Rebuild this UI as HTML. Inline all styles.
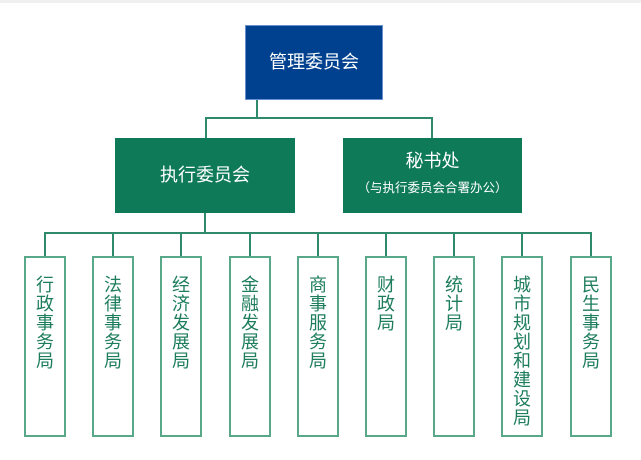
<!DOCTYPE html>
<html><head><meta charset="utf-8"><style>
body{margin:0;width:641px;height:460px;background:#fff;overflow:hidden;position:relative;font-family:"Liberation Sans","Noto Sans CJK SC",sans-serif}
.b{position:absolute;box-sizing:border-box;color:#fff;text-align:center}
.l{position:absolute;background:#2f8a6b}
.v{position:absolute;top:256px;width:42px;height:181px;box-sizing:border-box;border:2px solid #5aa88a;background:#fff;color:#1e7d5d;font-size:18px;line-height:19px;text-align:center;padding-top:18px}
</style></head><body>
<div style="position:absolute;left:0;top:0;width:641px;height:3px;background:#f0f0f0"></div>
<div class="b" style="left:245px;top:25px;width:138px;height:75px;background:#00418f;border:1px solid #6a8fcf;font-size:18px;line-height:73px">管理委员会</div>
<div class="l" style="left:256px;top:100px;width:2px;height:19px"></div>
<div class="l" style="left:205px;top:117px;width:228px;height:2px"></div>
<div class="l" style="left:205px;top:117px;width:2px;height:22px"></div>
<div class="l" style="left:431px;top:117px;width:2px;height:22px"></div>
<div class="b" style="left:115px;top:138px;width:180px;height:75px;background:#0e7a58;font-size:18px;line-height:75px">执行委员会</div>
<div class="b" style="left:343px;top:138px;width:179px;height:75px;background:#0e7a58"><div style="font-size:18px;margin-top:12px;line-height:22px">秘书处</div><div style="font-size:12.5px;margin-top:5px">（与执行委员会合署办公）</div></div>
<div class="l" style="left:204px;top:213px;width:2px;height:21px"></div>
<div class="l" style="left:44px;top:232px;width:548px;height:2px"></div>
<div class="l" style="left:44px;top:232px;width:2px;height:24px"></div>
<div class="l" style="left:112px;top:232px;width:2px;height:24px"></div>
<div class="l" style="left:180px;top:232px;width:2px;height:24px"></div>
<div class="l" style="left:249px;top:232px;width:2px;height:24px"></div>
<div class="l" style="left:317px;top:232px;width:2px;height:24px"></div>
<div class="l" style="left:385px;top:232px;width:2px;height:24px"></div>
<div class="l" style="left:453px;top:232px;width:2px;height:24px"></div>
<div class="l" style="left:521px;top:232px;width:2px;height:24px"></div>
<div class="l" style="left:590px;top:232px;width:2px;height:24px"></div>
<div class="v" style="left:24px">行<br>政<br>事<br>务<br>局</div>
<div class="v" style="left:92px">法<br>律<br>事<br>务<br>局</div>
<div class="v" style="left:160px">经<br>济<br>发<br>展<br>局</div>
<div class="v" style="left:229px">金<br>融<br>发<br>展<br>局</div>
<div class="v" style="left:297px">商<br>事<br>服<br>务<br>局</div>
<div class="v" style="left:365px">财<br>政<br>局</div>
<div class="v" style="left:433px">统<br>计<br>局</div>
<div class="v" style="left:501px">城<br>市<br>规<br>划<br>和<br>建<br>设<br>局</div>
<div class="v" style="left:570px">民<br>生<br>事<br>务<br>局</div>
</body></html>
